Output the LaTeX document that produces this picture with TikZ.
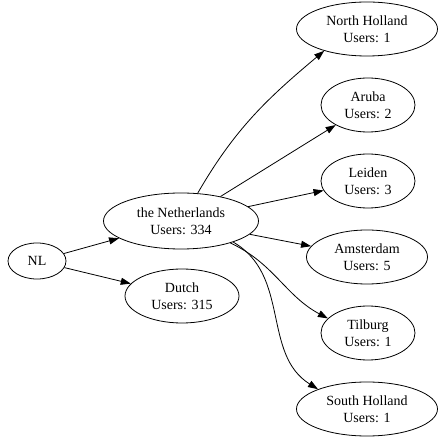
\documentclass[tikz,border=0pt]{standalone}
\usepackage{fontspec}
\setmainfont{Liberation Serif}
\usetikzlibrary{shapes.geometric, arrows.meta}
\begin{document}
\begin{tikzpicture}[
        x=1pt, y=1pt,
        oval/.style={draw, ellipse, align=center, inner sep=0pt, minimum height=54pt, line width=0.8pt, font=\fontsize{14pt}{16.8pt}\selectfont},
        arrow/.style={line width=0.8pt, -{Triangle[length=10pt, width=7pt]}}
    ]
        \useasboundingbox (0,0) rectangle (437,442);

        \node[oval, minimum width=58pt, minimum height=36pt] (nl) at (37, 181) {NL};

        \node[oval, minimum width=155pt, minimum height=56pt] (neth) at (181, 221) {the Netherlands \\ Users: 334};
        \node[oval, minimum width=114pt] (dutch) at (182, 146) {Dutch \\ Users: 315};

        \node[oval, minimum width=141pt] (nholland) at (367, 413) {North Holland \\ Users: 1};
        \node[oval, minimum width=94pt] (aruba) at (368, 337) {Aruba \\ Users: 2};
        \node[oval, minimum width=94pt] (leiden) at (368, 261) {Leiden \\ Users: 3};
        \node[oval, minimum width=121pt] (amsterdam) at (367, 185) {Amsterdam \\ Users: 5};
        \node[oval, minimum width=94pt] (tilburg) at (368, 109) {Tilburg \\ Users: 1};
        \node[oval, minimum width=141pt] (sholland) at (367, 33) {South Holland \\ Users: 1};

        \draw[arrow] (nl) -- (neth);
        \draw[arrow] (nl) -- (dutch);

        \draw[arrow] (neth.59) to[out=60, in=220] (nholland.207);
        \draw[arrow] (neth) -- (aruba);
        \draw[arrow] (neth) -- (leiden);
        \draw[arrow] (neth) -- (amsterdam);
        \draw[arrow] (neth.-24) to[out=-25, in=152] (tilburg.160);
        \draw[arrow] (neth.-22) to[out=-30, in=148] (sholland.158);
    \end{tikzpicture}
\end{document}
